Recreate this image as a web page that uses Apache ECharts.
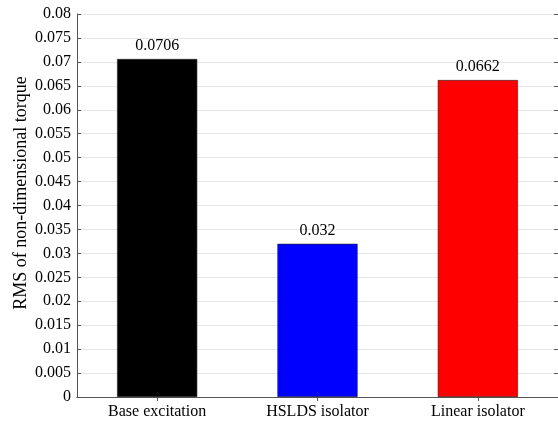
<!DOCTYPE html>
<html>
<head>
<meta charset="utf-8">
<script src="https://cdn.jsdelivr.net/npm/echarts@6/dist/echarts.min.js"></script>
<style>html,body{margin:0;padding:0;background:#fff}#c{width:558px;height:422px}</style>
</head>
<body>
<div id="c"></div>
<script>
const categories = ['Base excitation', 'HSLDS isolator', 'Linear isolator'];
const values = [0.0706, 0.032, 0.0662];
const valueLabels = ['0.0706', '0.032', '0.0662'];
const barColors = ['#000000', '#0000ff', '#ff0000'];
const yTicks = [0, 0.005, 0.01, 0.015, 0.02, 0.025, 0.03, 0.035, 0.04, 0.045, 0.05, 0.055, 0.06, 0.065, 0.07, 0.075, 0.08];
const yAxisTitle = 'RMS of non-dimensional torque';

const font = 'Liberation Serif, Times New Roman, serif';
const axisColor = '#555';
const chart = echarts.init(document.getElementById('c'), null, {renderer: 'canvas'});
chart.setOption({
  animation: false,
  grid: {left: 77, right: -2, top: 14, bottom: 25, containLabel: false},
  graphic: [{
    type: 'text', x: 21, y: 193, rotation: Math.PI / 2,
    style: {text: yAxisTitle, fill: '#000', font: '18px ' + font, textAlign: 'center', textVerticalAlign: 'middle'}
  }],
  xAxis: [{
    type: 'category', data: categories, position: 'bottom',
    axisLine: {show: true, lineStyle: {color: axisColor, width: 1}},
    axisTick: {show: true, inside: true, alignWithLabel: true, length: 4, lineStyle: {color: axisColor}},
    axisLabel: {color: '#000', fontFamily: font, fontSize: 16, margin: 7},
    splitLine: {show: false}
  }, {
    type: 'category', data: categories, position: 'top',
    axisLine: {show: true, lineStyle: {color: axisColor, width: 1}},
    axisTick: {show: true, inside: true, alignWithLabel: true, length: 4, lineStyle: {color: axisColor}},
    axisLabel: {show: false}
  }],
  yAxis: [{
    type: 'value', min: 0, max: 0.08, interval: 0.005,
    axisLine: {show: true, lineStyle: {color: axisColor, width: 1}},
    axisTick: {show: true, inside: true, length: 4, lineStyle: {color: axisColor}},
    axisLabel: {color: '#000', fontFamily: font, fontSize: 16, margin: 6,
      formatter: v => { const t = yTicks.find(x => Math.abs(x - v) < 1e-9); return t === undefined ? '' : String(+t.toFixed(3)); }},
    splitLine: {show: true, lineStyle: {color: '#e6e6e6', width: 1}}
  }, {
    type: 'value', min: 0, max: 0.08, interval: 0.005, position: 'right',
    axisLine: {show: true, lineStyle: {color: axisColor, width: 1}},
    axisTick: {show: true, inside: true, length: 4, lineStyle: {color: axisColor}},
    axisLabel: {show: false}, splitLine: {show: false}
  }],
  series: [{
    type: 'bar', xAxisIndex: 0, yAxisIndex: 0, barWidth: '50%',
    data: values.map((v, i) => ({value: v, itemStyle: {color: barColors[i]}})),
    itemStyle: {borderColor: '#222', borderWidth: 0.6},
    label: {show: true, position: 'top', distance: 5, color: '#000', fontFamily: font, fontSize: 16,
      formatter: p => valueLabels[p.dataIndex]}
  }]
});
</script>
</body>
</html>
